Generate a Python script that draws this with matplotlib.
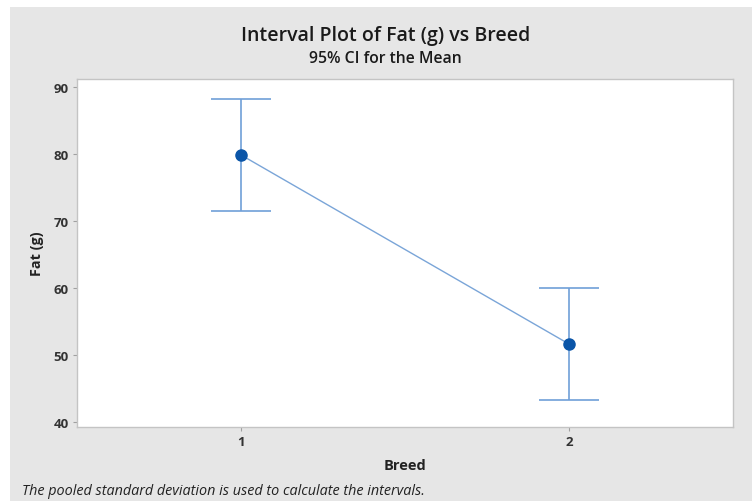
import matplotlib.pyplot as plt
from matplotlib.patches import Rectangle

plt.rcParams['font.family'] = ['Open Sans', 'DejaVu Sans']

# Data
breeds = [1, 2]
breed_labels = ["1", "2"]
means = [79.85, 51.6]
ci_half = [8.3, 8.3]

fig = plt.figure(figsize=(7.52, 5.02), dpi=100)
fig.patch.set_facecolor("white")
fig.patches.append(Rectangle((10 / 752, 0), 1 - 10 / 752, 1 - 8 / 502,
                             transform=fig.transFigure, facecolor="#e6e6e6",
                             edgecolor="none", zorder=-10))

ax = fig.add_axes([77 / 752, 1 - 428 / 502, (733 - 77) / 752, (428 - 80) / 502])
ax.set_facecolor("white")

# Interval bars
ax.errorbar(breeds, means, yerr=ci_half, fmt="none", ecolor="#6f9fd8",
            elinewidth=1.2, capsize=21.5, capthick=1.2, zorder=2)
# Connecting line and mean symbols
ax.plot(breeds, means, color="#7aa5d8", lw=1.0, zorder=3)
ax.plot(breeds, means, "o", color="#0a55a8", ms=8, zorder=4)

ax.set_xlim(0.5, 2.5)
ax.set_ylim(39.2, 91.2)
ax.set_xticks(breeds)
ax.set_xticklabels(breed_labels)
ax.set_yticks([40, 50, 60, 70, 80, 90])

for s in ax.spines.values():
    s.set_color("#c4c4c4")
    s.set_linewidth(1.0)
ax.tick_params(colors="#a0a0a0", length=3, width=0.8, pad=3)
for lab in ax.get_xticklabels() + ax.get_yticklabels():
    lab.set_color("#333333")
    lab.set_fontweight("bold")
    lab.set_fontsize(9.5)

ax.set_xlabel("Breed", fontsize=10.5, fontweight="bold", color="#222222", labelpad=7)
ax.set_ylabel("Fat (g)", fontsize=10.4, fontweight="bold", color="#222222", labelpad=7)

fig.text(386 / 752, 1 - 36 / 502, "Interval Plot of Fat (g) vs Breed",
         ha="center", va="center", fontsize=14, color="#1a1a1a", fontweight="semibold")
fig.text(385 / 752, 1 - 59 / 502, "95% CI for the Mean",
         ha="center", va="center", fontsize=11.3, color="#1a1a1a", fontweight="semibold")
fig.text(22 / 752, 1 - 492 / 502,
         "The pooled standard deviation is used to calculate the intervals.",
         ha="left", va="center", fontsize=10.4, style="italic", color="#222222")

fig.savefig("out.png", dpi=100)
